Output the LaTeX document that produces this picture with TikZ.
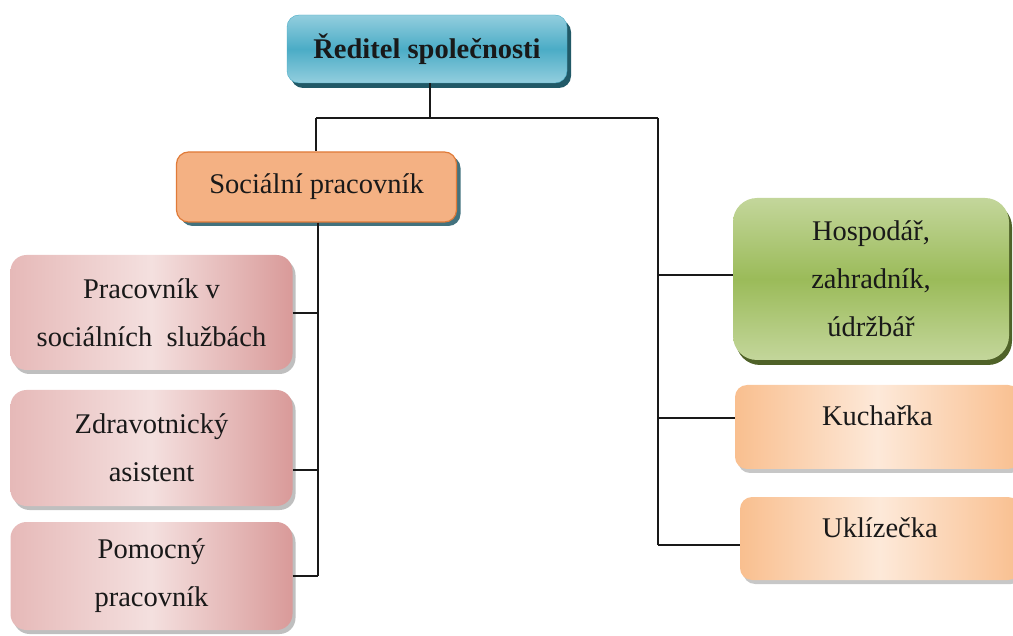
\documentclass[tikz,border=0pt]{standalone}
\usepackage{fontspec}
\setmainfont{Liberation Serif}
\usetikzlibrary{shadows}

\begin{document}
\begin{tikzpicture}[x=1pt,y=-1pt]
\definecolor{tealL}{HTML}{93CEDE}
\definecolor{tealM}{HTML}{4BACC6}
\definecolor{tealS}{HTML}{215967}
\definecolor{socF}{HTML}{F4B183}
\definecolor{socB}{HTML}{E07B39}
\definecolor{pinkL}{HTML}{F4E0DF}
\definecolor{pinkM}{HTML}{E6B9B8}
\definecolor{pinkD}{HTML}{D99A99}
\definecolor{greenL}{HTML}{C3D69B}
\definecolor{greenM}{HTML}{9BBB59}
\definecolor{greenS}{HTML}{4F6228}
\definecolor{peachL}{HTML}{FDE9D9}
\definecolor{peachD}{HTML}{F9BF8F}
\tikzset{box/.style={rounded corners=12pt,align=center,inner sep=0pt,
           font=\fontsize{28.5}{48}\selectfont,text=black!90},
         headbox/.style={top color=tealL,bottom color=tealL,middle color=tealM,
           draw=tealM,drop shadow={shadow xshift=4pt,shadow yshift=-5pt,fill=tealS,opacity=1}},
         socbox/.style={fill=socF,draw=socB,line width=1.2pt,
           drop shadow={shadow xshift=4pt,shadow yshift=-4pt,fill=tealS!85,opacity=1}},
         pinkbox/.style={rounded corners=16pt,left color=pinkM,right color=pinkD,middle color=pinkL,
           drop shadow={shadow xshift=3pt,shadow yshift=-4pt,fill=black!25,opacity=1}},
         greenbox/.style={rounded corners=24pt,top color=greenL,bottom color=greenL,middle color=greenM,
           drop shadow={shadow xshift=3pt,shadow yshift=-5pt,fill=greenS,opacity=1}},
         peachbox/.style={left color=peachD,right color=peachD,middle color=peachL,
           drop shadow={shadow xshift=3pt,shadow yshift=-4pt,fill=black!22,opacity=1}},
         upper/.style={text height=20pt,text depth=22pt},
         wire/.style={draw=black!90,line width=1.4pt}}
\clip (0,0) rectangle (1013,636);

% head and the social worker
\node[box,headbox,minimum width=280pt,minimum height=68pt] (head) at (427,49) {\textbf{Ředitel společnosti}};
\node[box,socbox,minimum width=280pt,minimum height=70pt] (soc) at (316.5,187) {Sociální pracovník};

% staff under the social worker
\foreach \n/\y/\h/\t in {prac/312.5/115/{Pracovník v\\sociálních\ \ službách},
                         zdr/448/116/{Zdravotnický\\asistent},
                         pom/576/108/{Pomocný\\pracovník}}
    \node[box,pinkbox,minimum width=282pt,minimum height=\h pt] (\n) at (151.5,\y) {\t};

% staff directly under the head
\node[box,greenbox,minimum width=276pt,minimum height=162pt] (hosp) at (871,279) {Hospodář,\\zahradník,\\údržbář};
\node[box,peachbox,upper,minimum width=285pt,minimum height=84pt] (kuch) at (877.5,427) {Kuchařka};
\node[box,peachbox,upper,minimum width=280pt,minimum height=83pt] (ukl) at (880,538.5) {Uklízečka};

% joints of the tree
\coordinate (split) at (430,118);
\coordinate (lsplit) at (316,118);
\coordinate (rsplit) at (658,118);
\coordinate (lbot) at (318,576);
\coordinate (zdrjoin) at (318,470);
\coordinate (pracjoin) at (318,313);
\coordinate (hospjoin) at (658,275);
\coordinate (kuchjoin) at (658,418);
\coordinate (rbot) at (658,545);

\draw[wire] (split |- head.south) -- (split);
\draw[wire] (lsplit) -- (rsplit);
\draw[wire] (lsplit) -- (lsplit |- soc.north);
\draw[wire] (lbot |- soc.south) -- (lbot);
\draw[wire] (pracjoin -| prac.east) -- (pracjoin);
\draw[wire] (zdrjoin -| zdr.east) -- (zdrjoin);
\draw[wire] (lbot -| pom.east) -- (lbot);
\draw[wire] (rsplit) -- (rbot);
\draw[wire] (hospjoin) -- (hospjoin -| hosp.west);
\draw[wire] (kuchjoin) -- (kuchjoin -| kuch.west);
\draw[wire] (rbot) -- (rbot -| ukl.west);
\end{tikzpicture}
\end{document}
